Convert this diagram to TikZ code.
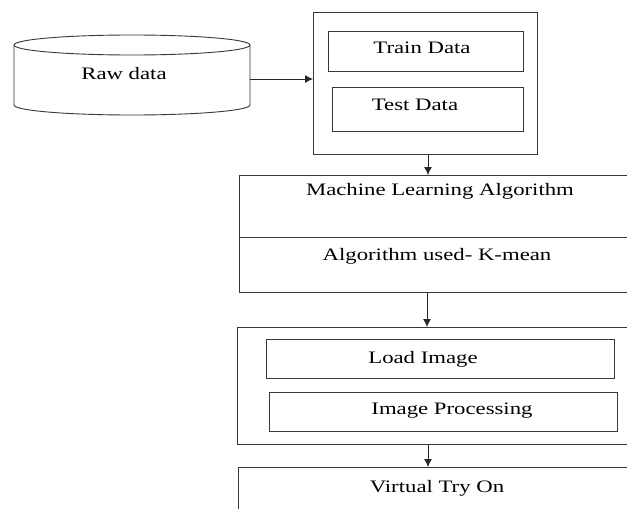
\documentclass[tikz,border=0pt]{standalone}
\usepackage{fontspec}
\setmainfont{Liberation Serif}[FakeStretch=1.3]
\usetikzlibrary{arrows.meta}
\begin{document}
\begin{tikzpicture}[x=1pt,y=-1pt,
  line width=0.9pt,
  edge/.style={draw=black!78},
  box/.style={draw=black!78, rectangle, inner sep=0pt, anchor=north west},
  lbl/.style={anchor=base, inner sep=0pt, text=black, font=\fontsize{17.5}{20}\selectfont},
  flow/.style={draw=black!85, line width=0.9pt, -{Latex[length=8pt,width=8pt]}}]
\clip (0,0) rectangle (627,509);
\fill[white] (0,0) rectangle (627,509);

% raw data store (cylinder)
\draw[edge, fill=white] (14,45) -- (14,105) arc[start angle=180, end angle=360, x radius=118pt, y radius=10pt] -- (250,45);
\draw[edge] (132,45) ellipse [x radius=118pt, y radius=10pt];
\node[inner sep=0pt, minimum width=236pt, minimum height=70pt] (raw) at (132,79) {};
\node[lbl] (rawt) at (124,79) {Raw data};

% data split
\node[box, minimum width=224pt, minimum height=142pt] (data) at (313,12) {};
\node[box, minimum width=195pt, minimum height=40pt] (train) at (328,31) {};
\node[box, minimum width=191pt, minimum height=44pt] (test) at (332,87) {};
\node[lbl] (traint) at (422,53) {Train Data};
\node[lbl] (testt) at (415,110) {Test Data};

% learning stage
\node[box, minimum width=400pt, minimum height=62pt] (ml) at (239,175) {};
\node[box, minimum width=400pt, minimum height=55pt] (alg) at (239,237) {};
\node[lbl] (mlt) at (440,195) {Machine Learning Algorithm};
\node[lbl] (algt) at (437,260) {Algorithm used- K-mean};

% image stage
\node[box, minimum width=400pt, minimum height=117pt] (proc) at (237,327) {};
\node[box, minimum width=348pt, minimum height=39pt] (load) at (266,339) {};
\node[box, minimum width=348pt, minimum height=39pt] (imgp) at (269,392) {};
\node[lbl] (loadt) at (423,363) {Load Image};
\node[lbl] (imgpt) at (452,414) {Image Processing};

% output stage
\node[box, minimum width=400pt, minimum height=60pt] (vto) at (238,467) {};
\node[lbl] (vtot) at (437,492) {Virtual Try On};

% connectors
\coordinate (rawout) at (250,79);
\draw[flow] (rawout) -- (rawout -| data.west);
\coordinate (a1) at (428,154);
\draw[flow] (a1) -- (a1 |- ml.north);
\coordinate (a2) at (427,292);
\draw[flow] (a2) -- (a2 |- proc.north);
\coordinate (a3) at (428,444);
\draw[flow] (a3) -- (a3 |- vto.north);
\end{tikzpicture}
\end{document}
